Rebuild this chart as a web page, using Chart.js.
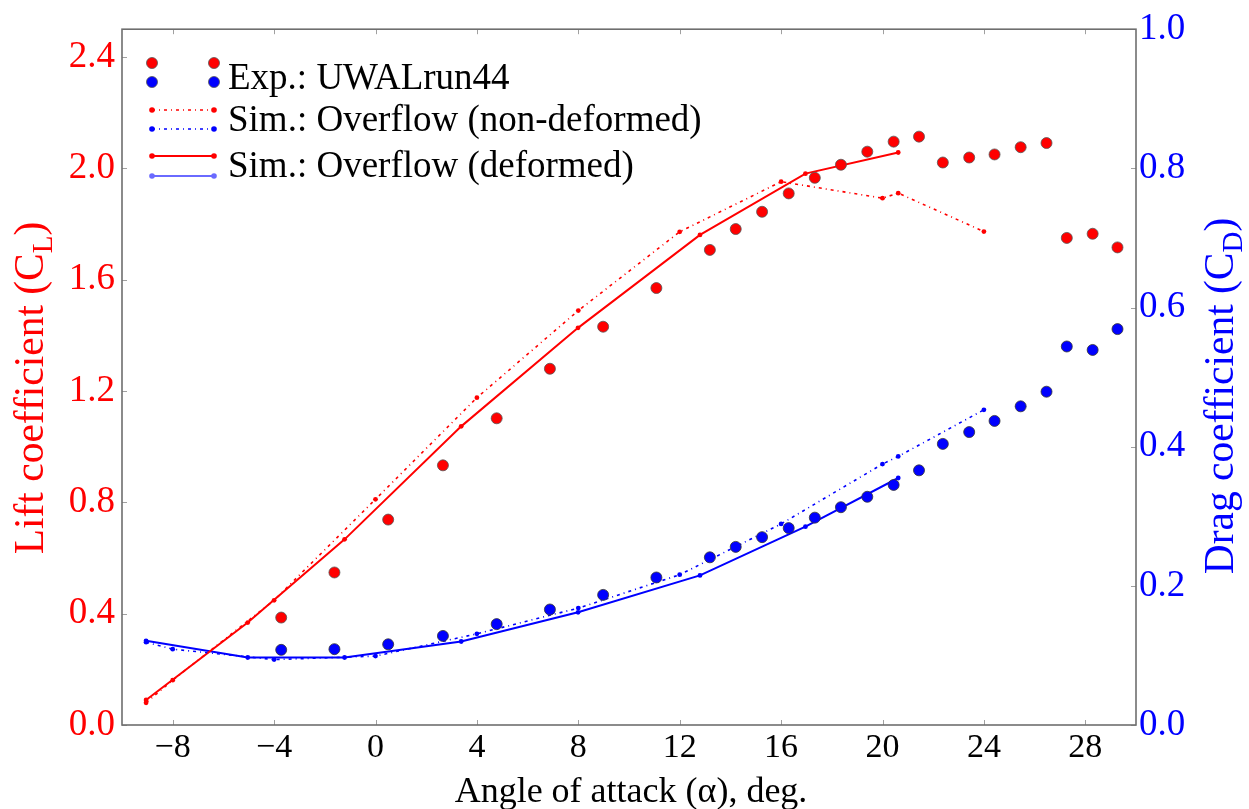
<!DOCTYPE html>
<html>
<head>
<meta charset="utf-8">
<script src="https://cdn.jsdelivr.net/npm/chart.js@4.4.1/dist/chart.umd.min.js"></script>
<style>
html,body{margin:0;padding:0;background:#fff;}
#wrap{width:1249px;height:809px;}
</style>
</head>
<body>
<div id="wrap"><canvas id="myChartCoef" width="1249" height="809"></canvas></div>
<script>
// experimento (UWALrun44)
const aoaExp = [-3.72,-1.62,0.5,2.66,4.78,6.88,8.98,11.08,13.19,14.21,15.25,16.3,17.33,18.36,19.4,20.44,21.44,22.38,23.42,24.42,25.45,26.47,27.27,28.29,29.27];
const clExp = [0.386,0.548,0.738,0.933,1.102,1.280,1.431,1.570,1.707,1.782,1.844,1.910,1.966,2.013,2.060,2.096,2.114,2.021,2.039,2.050,2.076,2.091,1.750,1.765,1.716];
const cdExp = [0.108,0.109,0.116,0.128,0.145,0.166,0.187,0.212,0.241,0.256,0.270,0.283,0.298,0.313,0.328,0.345,0.366,0.404,0.421,0.437,0.458,0.479,0.544,0.539,0.569];

// simulacao nao deformada
const aoaNonDef = [-9.05,-8,-4,0,4,8,12,16,20,20.62,24];
const clNonDef = [0.08,0.161,0.448,0.811,1.176,1.489,1.772,1.952,1.893,1.911,1.773];
const cdNonDef = [0.119,0.109,0.094,0.099,0.131,0.168,0.216,0.289,0.375,0.386,0.453];

// simulacao deformada
const aoaDef = [-9.05,-5.04,-1.22,3.38,7.99,12.8,16.96,20.62];
const clDef = [0.09,0.368,0.667,1.073,1.427,1.761,1.981,2.057];
const cdDef = [0.121,0.097,0.097,0.120,0.162,0.215,0.285,0.355];

// ticks
const xTicks = [-8,-4,0,4,8,12,16,20,24,28];
const clTicks = [0,0.4,0.8,1.2,1.6,2.0,2.4];
const cdTicks = [0,0.2,0.4,0.6,0.8,1.0];

const serif = "'Liberation Serif', 'DejaVu Serif', serif";
const vermelho = '#ff0000';
const azul = '#0000ff';

function pontos(xs, ys){
    return xs.map((v,i) => ({x: v, y: ys[i]}));
}

function fixarTicks(lista){
    return function(scale){
        scale.ticks = lista.map(v => ({value: v}));
    };
}

// texto com subscrito (C_L, C_D)
function textoSub(ctx, partes, size){
    let total = 0;
    partes.forEach(p => {
        ctx.font = (p[1] ? size*0.7 : size) + 'px ' + serif;
        total += ctx.measureText(p[0]).width;
    });
    let x = -total/2;
    partes.forEach(p => {
        ctx.font = (p[1] ? size*0.7 : size) + 'px ' + serif;
        ctx.fillText(p[0], x, p[1] ? size*0.22 : 0);
        x += ctx.measureText(p[0]).width;
    });
}

const moldura = {
    id: 'moldura',
    afterDraw(chart){
        const ctx = chart.ctx;
        const a = chart.chartArea;
        const sx = chart.scales.x, sy = chart.scales.y, sy2 = chart.scales.y2;
        ctx.save();
        ctx.strokeStyle = '#a0a0a0';
        ctx.lineWidth = 1;
        ctx.beginPath();
        xTicks.forEach(v => {
            const px = Math.round(sx.getPixelForValue(v)) + 0.5;
            ctx.moveTo(px, a.bottom); ctx.lineTo(px, a.bottom - 5);
            ctx.moveTo(px, a.top); ctx.lineTo(px, a.top + 5);
        });
        clTicks.forEach(v => {
            const py = Math.round(sy.getPixelForValue(v)) + 0.5;
            ctx.moveTo(a.left, py); ctx.lineTo(a.left + 5, py);
        });
        cdTicks.forEach(v => {
            const py = Math.round(sy2.getPixelForValue(v)) + 0.5;
            ctx.moveTo(a.right, py); ctx.lineTo(a.right - 5, py);
        });
        ctx.stroke();
        ctx.strokeStyle = '#6e6e6e';
        ctx.lineWidth = 1.6;
        ctx.strokeRect(a.left, a.top, a.right - a.left, a.bottom - a.top);

        // titulos dos eixos
        ctx.textBaseline = 'alphabetic';
        ctx.fillStyle = vermelho;
        ctx.save();
        ctx.translate(43, 388);
        ctx.rotate(-Math.PI/2);
        textoSub(ctx, [['Lift coefficient (C', false], ['L', true], [')', false]], 41.5);
        ctx.restore();

        ctx.fillStyle = azul;
        ctx.save();
        ctx.translate(1233, 396);
        ctx.rotate(-Math.PI/2);
        textoSub(ctx, [['Drag coefficient (C', false], ['D', true], [')', false]], 41.5);
        ctx.restore();

        ctx.fillStyle = '#000';
        ctx.save();
        ctx.translate((a.left + a.right)/2 + 2, 802);
        textoSub(ctx, [['Angle of attack (\u03b1), deg.', false]], 36);
        ctx.restore();

        // legenda
        const lx1 = 152, lx2 = 214;
        function bola(x, y, cor){
            ctx.beginPath();
            ctx.arc(x, y, 5.5, 0, Math.PI*2);
            ctx.fillStyle = cor; ctx.fill();
            ctx.lineWidth = 0.8; ctx.strokeStyle = '#555'; ctx.stroke();
        }
        function linha(y, cor, dash, largura){
            ctx.beginPath();
            ctx.setLineDash(dash);
            ctx.strokeStyle = cor; ctx.lineWidth = largura;
            ctx.moveTo(lx1, y); ctx.lineTo(lx2, y); ctx.stroke();
            ctx.setLineDash([]);
            [lx1, lx2].forEach(x => {
                ctx.beginPath(); ctx.arc(x, y, 2.8, 0, Math.PI*2);
                ctx.fillStyle = cor; ctx.fill();
            });
        }
        bola(lx1, 63, vermelho); bola(lx2, 63, vermelho);
        bola(lx1, 82, azul); bola(lx2, 82, azul);
        linha(110, vermelho, [3,4,1,4], 1.6);
        linha(129, azul, [3,4,1,4], 1.6);
        linha(156, vermelho, [], 2.2);
        linha(176, '#6a6aff', [], 2.2);
        ctx.fillStyle = '#000';
        ctx.font = '37px ' + serif;
        ctx.textAlign = 'left';
        ctx.fillText('Exp.: UWALrun44', 228, 89);
        ctx.fillText('Sim.: Overflow (non-deformed)', 228, 131);
        ctx.fillText('Sim.: Overflow (deformed)', 228, 177);
        ctx.restore();
    }
};

const ctxCoef = document.getElementById('myChartCoef');
const myChartCoef = new Chart(ctxCoef, {
    type: 'scatter',
    data: {
        datasets: [
            {
                label: 'Exp. CL',
                data: pontos(aoaExp, clExp),
                yAxisID: 'y',
                showLine: false,
                pointRadius: 5.5,
                pointBackgroundColor: vermelho,
                pointBorderColor: '#555',
                pointBorderWidth: 0.8
            },
            {
                label: 'Exp. CD',
                data: pontos(aoaExp, cdExp),
                yAxisID: 'y2',
                showLine: false,
                pointRadius: 5.5,
                pointBackgroundColor: azul,
                pointBorderColor: '#333',
                pointBorderWidth: 0.8
            },
            {
                label: 'Sim. CL non-deformed',
                data: pontos(aoaNonDef, clNonDef),
                yAxisID: 'y',
                showLine: true,
                borderColor: vermelho,
                borderWidth: 1.6,
                borderDash: [3,4,1,4],
                pointRadius: 2.4,
                pointBackgroundColor: vermelho,
                pointBorderWidth: 0,
                tension: 0
            },
            {
                label: 'Sim. CD non-deformed',
                data: pontos(aoaNonDef, cdNonDef),
                yAxisID: 'y2',
                showLine: true,
                borderColor: azul,
                borderWidth: 1.6,
                borderDash: [3,4,1,4],
                pointRadius: 2.4,
                pointBackgroundColor: azul,
                pointBorderWidth: 0,
                tension: 0
            },
            {
                label: 'Sim. CL deformed',
                data: pontos(aoaDef, clDef),
                yAxisID: 'y',
                showLine: true,
                borderColor: vermelho,
                borderWidth: 2,
                pointRadius: 2.4,
                pointBackgroundColor: vermelho,
                pointBorderWidth: 0,
                tension: 0
            },
            {
                label: 'Sim. CD deformed',
                data: pontos(aoaDef, cdDef),
                yAxisID: 'y2',
                showLine: true,
                borderColor: azul,
                borderWidth: 2,
                pointRadius: 2.4,
                pointBackgroundColor: azul,
                pointBorderWidth: 0,
                tension: 0
            }
        ]
    },
    options: {
        responsive: false,
        animation: false,
        devicePixelRatio: 1,
        layout: { padding: { top: 28, left: 0, right: 0, bottom: 0 } },
        plugins: {
            legend: { display: false },
            tooltip: { enabled: false }
        },
        scales: {
            x: {
                type: 'linear',
                min: -10,
                max: 30,
                afterBuildTicks: fixarTicks(xTicks),
                afterFit: function(scale){ scale.height = 84; },
                grid: { display: false, drawTicks: false },
                border: { display: false },
                ticks: {
                    autoSkip: false,
                    maxRotation: 0,
                    padding: 3,
                    color: '#000',
                    font: { family: serif, size: 34 },
                    callback: v => v < 0 ? '\u2212' + Math.abs(v) : '' + v
                }
            },
            y: {
                type: 'linear',
                position: 'left',
                min: 0,
                max: 2.5,
                afterBuildTicks: fixarTicks(clTicks),
                afterFit: function(scale){ scale.width = 122; },
                grid: { display: false, drawTicks: false },
                border: { display: false },
                ticks: {
                    padding: 7,
                    color: vermelho,
                    font: { family: serif, size: 37 },
                    callback: v => v.toFixed(1)
                }
            },
            y2: {
                type: 'linear',
                position: 'right',
                min: 0,
                max: 1,
                afterBuildTicks: fixarTicks(cdTicks),
                afterFit: function(scale){ scale.width = 113; },
                grid: { display: false, drawTicks: false },
                border: { display: false },
                ticks: {
                    padding: 3,
                    color: azul,
                    font: { family: serif, size: 37 },
                    callback: v => v.toFixed(1)
                }
            }
        }
    },
    plugins: [moldura]
});
</script>
</body>
</html>
